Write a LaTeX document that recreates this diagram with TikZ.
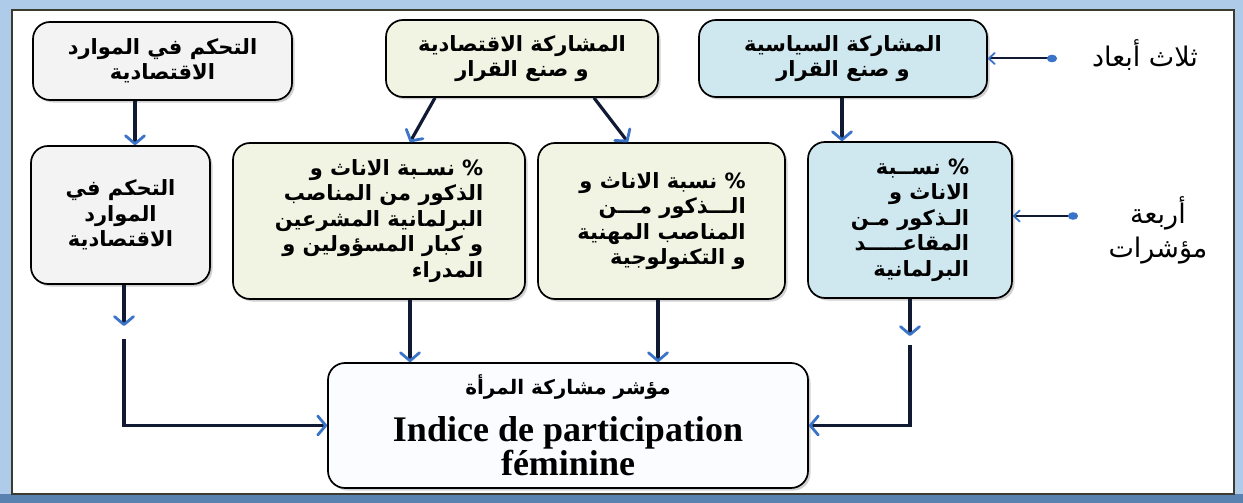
\documentclass[tikz,border=0pt]{standalone}
\usepackage{fontspec}
\setmainfont{Liberation Serif}
\newfontfamily\arabicfont[Script=Arabic]{DejaVu Sans}
\TeXXeTstate=1
\usetikzlibrary{arrows.meta,shadows}
\definecolor{navy}{HTML}{101A33}
\definecolor{arrowblue}{HTML}{3B73C8}
\definecolor{grayfill}{HTML}{F3F3F3}
\definecolor{greenfill}{HTML}{F1F3E3}
\definecolor{bluefill}{HTML}{CFE7EE}
\definecolor{whitefill}{HTML}{FBFCFF}
\definecolor{framebg}{HTML}{AFCBEA}
\definecolor{framebot}{HTML}{5A82B0}
\definecolor{framedark}{HTML}{3B3B30}
\newcommand{\arb}[1]{{\arabicfont\bfseries\beginR #1\endR}}
\newcommand{\arn}[1]{{\arabicfont\beginR #1\endR}}
\tikzset{
  box/.style={draw=black, line width=1.7pt, rounded corners=17pt, inner sep=0pt,
    drop shadow={shadow xshift=2.5pt, shadow yshift=-2.5pt, fill=black!30, opacity=0.6},
    font=\fontsize{21}{25.5}\selectfont},
  conn/.style={draw=navy, line width=3.2pt,
    -{Straight Barb[length=8pt,width=19pt,line width=2.8pt,round,color=arrowblue]}},
  connline/.style={draw=navy, line width=3.6pt},
  lab/.style={draw=navy, line width=2pt,
    {Circle[length=10pt,width=7.5pt,color=arrowblue]}-{Straight Barb[length=6pt,width=11pt,line width=1.8pt,round,color=arrowblue]}},
  labtext/.style={font=\fontsize{27}{34}\selectfont, align=center, inner sep=0pt}
}
\begin{document}
\begin{tikzpicture}[x=1pt,y=-1pt]
\useasboundingbox (0,0) rectangle (1243,503);
\fill[framebg] (0,0) rectangle (1243,503);
\fill[framebot] (0,494) rectangle (1243,503);
\draw[fill=white, draw=framedark, line width=2pt] (12,10) rectangle (1234,494);

% top row
\node[box, fill=grayfill, minimum width=259pt, minimum height=78pt, align=center] (A) at (162.5,61)
  {\arb{التحكم في الموارد}\\\arb{الاقتصادية}};
\node[box, fill=greenfill, minimum width=272pt, minimum height=77pt, align=center] (B) at (522,58.5)
  {\arb{المشاركة الاقتصادية}\\\arb{و صنع القرار}};
\node[box, fill=bluefill, minimum width=288pt, minimum height=77pt, align=center] (C) at (843,58.5)
  {\arb{المشاركة السياسية}\\\arb{و صنع القرار}};

% second row
\node[box, fill=grayfill, minimum width=179pt, minimum height=138pt, align=center] (D) at (120.5,215)
  {\arb{التحكم في}\\\arb{الموارد}\\\arb{الاقتصادية}};
\node[box, fill=greenfill, minimum width=292pt, minimum height=156pt, align=right] (E) at (379,221)
  {\arb{\% نسـبة الاناث و}\\\arb{الذكور من المناصب}\\\arb{البرلمانية المشرعين}\\\arb{و كبار المسؤولين و}\\\arb{المدراء}};
\node[box, fill=greenfill, minimum width=247pt, minimum height=156pt, align=right] (F) at (661.5,221)
  {\arb{\% نسبة الاناث و}\\\arb{الـــذكور مـــن}\\\arb{المناصب المهنية}\\\arb{و التكنولوجية}};
\node[box, fill=bluefill, minimum width=204pt, minimum height=156pt, align=right] (G) at (910,220)
  {\arb{\% نســبة}\\\arb{الاناث و}\\\arb{الـذكور مـن}\\\arb{المقاعـــــد}\\\arb{البرلمانية}};

% bottom box
\node[box, fill=whitefill, minimum width=480pt, minimum height=125pt, align=center,
  font=\fontsize{36}{31}\selectfont] (H) at (568,425.5)
  {{\fontsize{20}{22}\selectfont\arb{مؤشر مشاركة المرأة}}\\[16pt]
   {\bfseries Indice de participation}\\{\bfseries féminine}};

% side labels
\node[labtext] (L1) at (1145,55) {\arn{ثلاث أبعاد}};
\node[labtext] (L2) at (1158,230) {\arn{أربعة}\\\arn{مؤشرات}};
\coordinate (d1) at (1057,58.5);
\coordinate (d2) at (1078,216);
\draw[lab] (d1) -- (C.east |- d1);
\draw[lab] (d2) -- (G.east |- d2);

% x positions
\coordinate (xa) at (135,0);
\coordinate (xb1) at (435,0);
\coordinate (xe) at (410,0);
\coordinate (xb2) at (594,0);
\coordinate (xf1) at (628,0);
\coordinate (xc) at (842,0);
\coordinate (xf) at (658,0);
\coordinate (xd) at (124,0);
\coordinate (xg) at (910,0);

% connectors
\draw[conn] (A.south -| xa) -- (D.north -| xa);
\draw[conn] (B.south -| xb1) -- (E.north -| xe);
\draw[conn] (B.south -| xb2) -- (F.north -| xf1);
\draw[conn] (C.south -| xc) -- (G.north -| xc);
\draw[conn] (E.south -| xe) -- (H.north -| xe);
\draw[conn] (F.south -| xf) -- (H.north -| xf);

\coordinate (dtip) at (124,326);
\coordinate (dstart) at (124,341);
\coordinate (gtip) at (910,336);
\coordinate (gstart) at (910,347);
\draw[conn] (D.south -| xd) -- (dtip);
\draw[conn] (G.south -| xg) -- (gtip);
\draw[connline, line cap=rect] (dstart) -- (dstart |- H.west) -- ++(20,0);
\draw[conn] (dstart |- H.west) -- (H.west);
\draw[connline, line cap=rect] (gstart) -- (gstart |- H.east) -- ++(-20,0);
\draw[conn] (gstart |- H.east) -- (H.east);
\end{tikzpicture}
\end{document}
